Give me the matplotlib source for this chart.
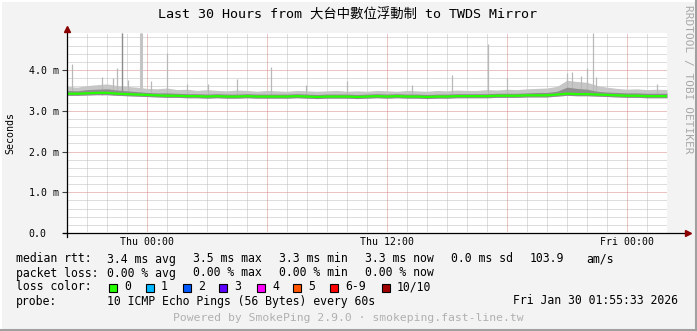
import numpy as np
import matplotlib
matplotlib.use('Agg')
import matplotlib.pyplot as plt
from matplotlib.lines import Line2D
from matplotlib.patches import Rectangle

W, H = 697, 331

# hours relative to Thu 00:00, one sample every 30 min
hours = np.arange(-4.0, 26.01, 0.5)
median = [3.42, 3.42, 3.43, 3.44, 3.44, 3.42, 3.41, 3.40, 3.39, 3.38,
          3.37, 3.37, 3.36, 3.36, 3.35, 3.36, 3.35, 3.35, 3.36, 3.35,
          3.35, 3.35, 3.35, 3.36, 3.35, 3.34, 3.35, 3.35, 3.35, 3.34,
          3.35, 3.36, 3.35, 3.36, 3.35, 3.35, 3.34, 3.35, 3.35, 3.36,
          3.36, 3.36, 3.36, 3.37, 3.37, 3.37, 3.38, 3.38, 3.38, 3.40,
          3.42, 3.41, 3.41, 3.40, 3.39, 3.38, 3.37, 3.37, 3.36, 3.36,
          3.36]
smoke_lo = [3.38, 3.38, 3.39, 3.40, 3.40, 3.38, 3.37, 3.36, 3.35, 3.34,
            3.33, 3.33, 3.32, 3.32, 3.31, 3.32, 3.31, 3.31, 3.32, 3.31,
            3.31, 3.31, 3.31, 3.32, 3.31, 3.30, 3.31, 3.31, 3.31, 3.30,
            3.31, 3.32, 3.31, 3.32, 3.31, 3.31, 3.30, 3.31, 3.31, 3.32,
            3.32, 3.32, 3.32, 3.33, 3.33, 3.33, 3.34, 3.34, 3.34, 3.36,
            3.38, 3.37, 3.37, 3.36, 3.35, 3.34, 3.33, 3.33, 3.32, 3.32,
            3.32]
core_hi = [3.50, 3.49, 3.52, 3.53, 3.54, 3.51, 3.49, 3.47, 3.45, 3.44,
           3.44, 3.43, 3.42, 3.42, 3.41, 3.42, 3.41, 3.41, 3.42, 3.41,
           3.41, 3.41, 3.41, 3.42, 3.41, 3.40, 3.41, 3.41, 3.41, 3.40,
           3.41, 3.42, 3.41, 3.42, 3.41, 3.41, 3.40, 3.41, 3.41, 3.42,
           3.42, 3.42, 3.42, 3.43, 3.43, 3.43, 3.44, 3.45, 3.45, 3.48,
           3.58, 3.55, 3.53, 3.48, 3.46, 3.45, 3.44, 3.44, 3.43, 3.43,
           3.43]
smoke_hi = [3.60, 3.58, 3.62, 3.64, 3.66, 3.62, 3.60, 3.58, 3.55, 3.54,
            3.56, 3.52, 3.53, 3.50, 3.52, 3.50, 3.49, 3.51, 3.50, 3.48,
            3.50, 3.49, 3.48, 3.50, 3.49, 3.48, 3.49, 3.50, 3.48, 3.49,
            3.48, 3.50, 3.49, 3.48, 3.50, 3.49, 3.48, 3.50, 3.49, 3.51,
            3.50, 3.50, 3.52, 3.51, 3.53, 3.52, 3.54, 3.55, 3.56, 3.60,
            3.75, 3.72, 3.70, 3.62, 3.58, 3.55, 3.53, 3.54, 3.52, 3.53,
            3.52]

# single high pings (hour, ms)
spike_h = [-3.74, -2.25, -1.70, -1.48, -1.24, -0.95, -0.28, 0.22, 1.02, 2.02,
           3.05, 4.50, 6.22, 7.97, 10.0, 13.25, 15.27, 17.05, 18.02, 21.0,
           21.27, 21.72, 22.02, 22.30, 22.47, 25.5]
spike_v = [4.15, 3.84, 3.81, 4.04, 4.91, 3.75, 4.91, 3.74, 4.41, 3.67,
           3.67, 3.77, 4.08, 3.63, 3.74, 3.63, 3.88, 4.65, 3.81, 3.93,
           3.95, 3.85, 4.04, 4.91, 3.83, 3.67]

yticks = [0, 1, 2, 3, 4]
ylabels = ['0.0', '1.0 m', '2.0 m', '3.0 m', '4.0 m']
xticks = [0, 12, 24]
xlabels = ['Thu 00:00', 'Thu 12:00', 'Fri 00:00']

loss_names = ['0', '1', '2', '3', '4', '5', '6-9', '10/10']
loss_colors = ['#26ff00', '#00b8ff', '#0059ff', '#5e00ff', '#ff00ff',
               '#ff5500', '#ff0000', '#a10000']

mono = 'DejaVu Sans Mono'


def fx(x):
    return x / W


def fy(y):
    return 1 - y / H


fig = plt.figure(figsize=(W / 100, H / 100), dpi=100)
fig.patch.set_facecolor('#f3f3f3')

ax = fig.add_axes([fx(67), fy(233), 600 / W, 200 / H])
ax.set_facecolor('white')
ax.set_xlim(-4, 26)
ax.set_ylim(0, 4.91)

# grid: minor every hour / 0.2 ms, major every 6 h / 1 ms
gkw = dict(lw=0.72, ls=(0, (1, 1)), snap=True)
for h in np.arange(-3, 26, 1):
    if h % 6 == 0:
        continue
    ax.axvline(h, ymin=0.01, color='#bcbcbc', zorder=1, **gkw)
for v in np.arange(0.2, 4.91, 0.2):
    if abs(v - round(v)) < 1e-6:
        continue
    ax.axhline(v, color='#bcbcbc', zorder=1, **gkw)
for h in [0, 6, 12, 18, 24]:
    ax.axvline(h, ymin=0.01, color='#d88888', zorder=1.1, **gkw)
for v in [1, 2, 3, 4]:
    ax.axhline(v, color='#d88888', zorder=1.1, **gkw)

# smoke
ax.fill_between(hours, smoke_lo, smoke_hi, color='#c6c6c6', lw=0, zorder=2)
ax.vlines(spike_h, 3.4, spike_v, color='#b8b8b8', lw=0.9, zorder=2)
ax.vlines(spike_h[4], 3.4, spike_v[4], color='#8c8c8c', lw=0.9, zorder=2.1)
ax.vlines(spike_h[6], 3.4, spike_v[6], color='#c4c4c4', lw=2.2, zorder=2.1)
ax.fill_between(hours, smoke_lo, core_hi, color='#8e8e8e', lw=0, zorder=3)
ax.plot(hours, median, color='#26ff00', lw=1.6, zorder=4)

for s in ax.spines.values():
    s.set_visible(False)

ax.set_yticks(yticks)
ax.set_yticklabels(ylabels, fontsize=7.1, family=mono)
for lab in ax.get_yticklabels():
    lab.set_horizontalalignment('left')
ax.tick_params(axis='y', length=3.5, width=0.8, color='#404040', pad=24.2)
ax.set_xticks(xticks)
ax.set_xticklabels(xlabels, fontsize=7.1, family=mono)
ax.tick_params(axis='x', length=0, pad=3.0)

# axis lines with arrows
fig.add_artist(Line2D([fx(63), fx(687)], [fy(233), fy(233)], color='black', lw=0.9))
fig.add_artist(Line2D([fx(67), fx(67)], [fy(237), fy(30)], color='black', lw=0.9))
fig.add_artist(Line2D([fx(688)], [fy(233)], marker='>', ms=4.5, color='#8b0000', lw=0))
fig.add_artist(Line2D([fx(67)], [fy(29)], marker='^', ms=4.5, color='#8b0000', lw=0))

fig.text(fx(10), fy(133), 'Seconds', rotation=90, fontsize=7.2, family=mono,
         ha='center', va='center')

fig.text(fx(348), fy(15), 'Last 30 Hours from 大台中數位浮動制 to TWDS Mirror',
         fontsize=9.6, family=[mono, 'Noto Sans CJK TC'], ha='center', va='center')

fig.text(fx(688), fy(5), 'RRDTOOL / TOBI OETIKER', rotation=270, fontsize=8.0,
         family=mono, color='#a8a8a8', ha='center', va='top')

# legend rows
rows = [
    (259, [(16, 'median rtt:'), (107, '3.4 ms avg'), (193, '3.5 ms max'),
           (279, '3.3 ms min'), (365, '3.3 ms now'), (451, '0.0 ms sd'),
           (530, '103.9'), (586, 'am/s')]),
    (273, [(16, 'packet loss:'), (107, '0.00 % avg'), (193, '0.00 % max'),
           (279, '0.00 % min'), (365, '0.00 % now')]),
    (287, [(16, 'loss color:')]),
    (301, [(16, 'probe:'), (107, '10 ICMP Echo Pings (56 Bytes) every 60s'),
           (513, 'Fri Jan 30 01:55:33 2026')]),
]
for ry, items in rows:
    for rx, t in items:
        fig.text(fx(rx), fy(ry), t, fontsize=8.3, family=mono, ha='left', va='center')

box_x = [109, 146, 183, 219, 257, 293, 330, 382]
for bx, name, col in zip(box_x, loss_names, loss_colors):
    fig.add_artist(Rectangle((fx(bx), fy(291.5)), 8 / W, 8 / H, facecolor=col,
                             edgecolor='black', lw=0.8, transform=fig.transFigure))
    fig.text(fx(bx + 15), fy(287), name, fontsize=8.3, family=mono, ha='left', va='center')

fig.text(fx(348), fy(318), 'Powered by SmokePing 2.9.0 · smokeping.fast-line.tw',
         fontsize=8.2, family=mono, color='#b0b0b0', ha='center', va='center')

# frame
fig.add_artist(Line2D([0, 1], [fy(0.5), fy(0.5)], color='white', lw=1.5))
fig.add_artist(Line2D([fx(0.5), fx(0.5)], [0, 1], color='white', lw=1.5))
fig.add_artist(Line2D([0, 1], [fy(330), fy(330)], color='#a0a0a0', lw=2.2))
fig.add_artist(Line2D([fx(696), fx(696)], [0, 1], color='#a0a0a0', lw=2.2))

fig.savefig('out.png', dpi=100, facecolor=fig.get_facecolor())
